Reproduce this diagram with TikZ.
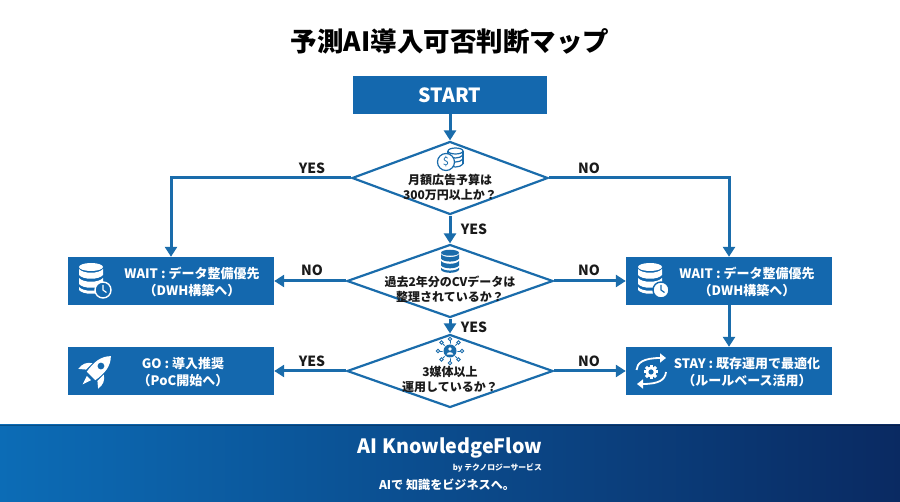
\documentclass[tikz,border=0pt]{standalone}
\usepackage{fontspec}
\setmainfont{Noto Sans CJK JP}
\usetikzlibrary{arrows.meta,positioning,shapes.geometric}
\definecolor{flowblue}{HTML}{1468AE}
\definecolor{lineblue}{HTML}{1A6CAB}
\definecolor{inkdark}{HTML}{1A1A1A}
\definecolor{footleft}{HTML}{0C6CB6}
\definecolor{footright}{HTML}{0A2A62}
\tikzset{
	pics/dbstack/.style={code={
		\fill[#1] (0,-11) ellipse [x radius=12, y radius=4];
		\fill[#1] (-12,-9) .. controls (-8,-4) and (8,-4) .. (12,-9) -- (12,-3) .. controls (8,2) and (-8,2) .. (-12,-3) -- cycle;
		\fill[#1] (-12,0) .. controls (-8,5) and (8,5) .. (12,0) -- (12,6) .. controls (8,11) and (-8,11) .. (-12,6) -- cycle;
		\fill[#1] (-12,9) .. controls (-8,14) and (8,14) .. (12,9) -- (12,12) .. controls (8,17) and (-8,17) .. (-12,12) -- cycle;
	}},
	pics/clockdial/.style 2 args={code={
		\draw[#2, fill=#1, line width=1.4pt] (0,0) circle (8);
		\draw[#2, line width=1.2pt] (0,-5) -- (0,0) -- (3.5,2.5);
	}},
	pics/coinstack/.style={code={
		\draw[lineblue, line width=1.2pt, fill=white] (5.5,-10) ellipse [x radius=7.5, y radius=3];
		\draw[lineblue, line width=1.2pt] (-2,-10) -- (-2,3) (13,-10) -- (13,3);
		\draw[lineblue, line width=1.2pt] (-2,-6) .. controls (1,-2) and (10,-2) .. (13,-6);
		\draw[lineblue, line width=1.2pt] (-2,-2) .. controls (1,2) and (10,2) .. (13,-2);
		\draw[lineblue, line width=1.2pt] (-2,3) .. controls (1,7) and (10,7) .. (13,3);
		\draw[lineblue, line width=1.2pt, fill=white] (-4,1) circle (8.5);
		\node[lineblue, font=\fontsize{11}{11}\selectfont] (coinsign) at (-4,1) {\$};
	}},
	pics/hubicon/.style={code={
		\foreach \spoke in {0,45,...,315} {
			\draw[lineblue, line width=0.9pt] (0,0) -- (\spoke:10);
			\draw[lineblue, line width=0.9pt, fill=white] (\spoke:12) circle (1.8);
		}
		\fill[white] (0,0) circle (7.5);
		\fill[lineblue] (0,0) circle (6.5);
		\fill[white] (0,-2) circle (1.9);
		\fill[white] (-3.3,3.6) .. controls (-3,0.4) and (3,0.4) .. (3.3,3.6) -- cycle;
	}},
	pics/rocketicon/.style={code={
		\fill[white] (0,-21) .. controls (7,-14) and (8,-5) .. (6,7) -- (-6,7) .. controls (-8,-5) and (-7,-14) .. (0,-21) -- cycle;
		\fill[flowblue] (0,-7) circle (3.4);
		\fill[white] (-8,-3) .. controls (-13,0) and (-15,5) .. (-14,11) -- (-8,6) -- cycle;
		\fill[white] (8,-3) .. controls (13,0) and (15,5) .. (14,11) -- (8,6) -- cycle;
		\fill[white] (-3,10) -- (3,10) -- (0,19) -- cycle;
	}},
	pics/cycleicon/.style={code={
		\foreach \tooth in {0,45,...,315} {
			\fill[white, rotate=\tooth] (-1.5,-7.2) rectangle (1.5,0);
		}
		\fill[white] (0,0) circle (5.6);
		\fill[flowblue] (0,0) circle (2.6);
		\draw[white, line width=1.8pt, -{Triangle[length=6pt,width=9pt]}] (-14.5,-2) .. controls (-14,-9) and (-8,-14) .. (15,-14);
		\draw[white, line width=1.8pt, -{Triangle[length=6pt,width=9pt]}] (15,0) .. controls (14,8) and (8,12) .. (-14,12);
	}},
}
\begin{document}
\begin{tikzpicture}[
					x=1pt, y=-1pt,
					start box/.style={fill=flowblue, text=white, minimum width=194pt, minimum height=38pt, inner sep=0pt, text height=16pt, text depth=0pt, font=\fontsize{19.5}{22}\selectfont\bfseries},
					result box/.style={fill=flowblue, minimum width=206pt, minimum height=48pt, inner sep=0pt},
					result label/.style={text=white, align=center, inner sep=0pt, font=\fontsize{13}{17}\selectfont\bfseries},
					check diamond/.style={diamond, draw=lineblue, line width=2.2pt, fill=white, aspect=2.75, inner sep=0pt, minimum width=#1, minimum height=73pt},
					check label/.style={text=inkdark, align=center, inner sep=0pt, font=\fontsize{12}{15}\selectfont\bfseries},
					flow arrow/.style={draw=lineblue, line width=3pt, -{Triangle[length=10pt,width=12pt]}},
					answer/.style={text=inkdark, inner sep=0pt, font=\fontsize{14}{16}\selectfont\bfseries},
				]
					\useasboundingbox (0,0) rectangle (900,502);
					\node[text=black, inner sep=0pt, font=\fontsize{26.5}{30}\selectfont\bfseries] (title) at (450,41) {予測AI導入可否判断マップ};

					\node[start box] (start) at (450,95) {START};
					\node[check diamond=196pt] (budget) at (450,178) {};
					\node[check diamond=206pt] (history) at (450,281) {};
					\node[check diamond=206pt] (media) at (450,371) {};

					\node[result box] (waitleft) at (171,281) {};
					\node[result box] (waitright) at (729,281) {};
					\node[result box] (go) at (171,371) {};
					\node[result box] (stay) at (729,371) {};

					\draw[flow arrow] (start) -- (budget);
					\draw[flow arrow] (budget) -- (history);
					\draw[flow arrow] (history) -- (media);
					\draw[flow arrow] (budget.west) -| (waitleft.north);
					\draw[flow arrow] (budget.east) -| (waitright.north);
					\draw[flow arrow] (history.west) -- (waitleft.east);
					\draw[flow arrow] (history.east) -- (waitright.west);
					\draw[flow arrow] (media.west) -- (go.east);
					\draw[flow arrow] (media.east) -- (stay.west);
					\draw[flow arrow] (waitright) -- (stay);

					\node[answer] (yesone) at (312,168) {YES};
					\node[answer] (noone) at (589,168) {NO};
					\node[answer] (yestwo) at (474,229) {YES};
					\node[answer] (notwo) at (312,270) {NO};
					\node[answer] (nothree) at (589,270) {NO};
					\node[answer] (yesthree) at (474,327) {YES};
					\node[answer] (yesfour) at (312,361) {YES};
					\node[answer] (nofour) at (589,361) {NO};

					\node[check label] (budgettext) at (450,187) {月額広告予算は\\300万円以上か？};
					\node[check label] (historytext) at (450,289) {過去2年分のCVデータは\\整理されているか？};
					\node[check label] (mediatext) at (450,379) {3媒体以上\\運用しているか？};

					\node[result label] (waitlefttext) at (192,282) {WAIT : データ整備優先\\（DWH構築へ）};
					\node[result label] (waitrighttext) at (747,282) {WAIT : データ整備優先\\（DWH構築へ）};
					\node[result label] (gotext) at (183,372) {GO : 導入推奨\\（PoC開始へ）};
					\node[result label] (staytext) at (747,372) {STAY : 既存運用で最適化\\（ルールベース活用）};

					\pic at (450,161) {coinstack};
					\pic at (450,261) [scale=0.75] {dbstack=lineblue};
					\pic at (450,351) {hubicon};
					\pic at (91,278) {dbstack=white};
					\pic at (103,290) {clockdial={flowblue}{white}};
					\pic at (650,278) {dbstack=white};
					\pic at (661,290) {clockdial={white}{flowblue}};
					\pic at (96,371) [rotate=-45] {rocketicon};
					\pic at (651,372) {cycleicon};

					\shade[left color=footleft, right color=footright] (0,425) rectangle (900,502);
					\fill[black, opacity=0.25] (0,425) rectangle (900,426.5);
					\node[text=white, inner sep=0pt, font=\fontsize{19.7}{24}\selectfont\bfseries] (brand) at (450,448) {AI KnowledgeFlow};
					\node[text=white, inner sep=0pt, anchor=east, font=\fontsize{7.8}{10}\selectfont\bfseries] (maker) at (542,468) {by テクノロジーサービス};
					\node[text=white, inner sep=0pt, font=\fontsize{12.1}{15}\selectfont\bfseries] (slogan) at (447,485) {AIで 知識をビジネスへ。};
				\end{tikzpicture}
\end{document}
